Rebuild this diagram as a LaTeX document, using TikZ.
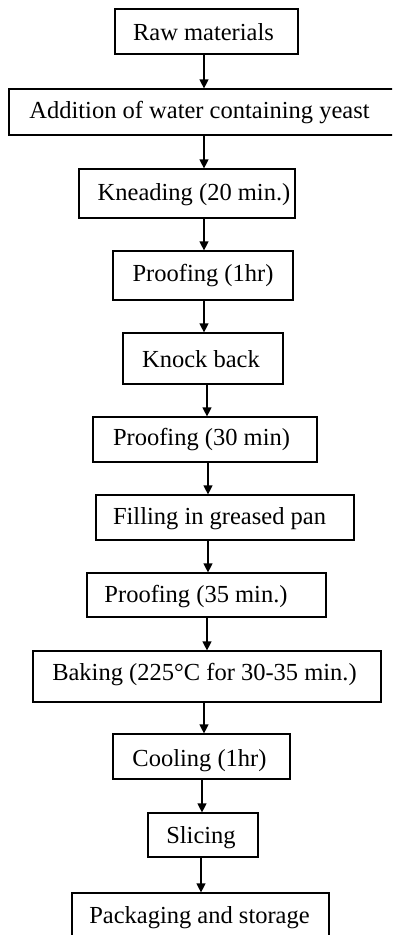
\documentclass[tikz,border=0pt]{standalone}
\usepackage{fontspec}
\setmainfont{Liberation Serif}
\usetikzlibrary{arrows.meta}

\begin{document}
\begin{tikzpicture}[x=1pt,y=-1pt,->,>={Triangle[width=9pt,length=9pt]},line width=1.2pt]
   \useasboundingbox (0,0) rectangle (392,935);
   \clip (0,0) rectangle (392,935);
   \fontsize{24.5}{29}\selectfont
   \tikzstyle{box}=[rectangle, draw=black, inner sep=0pt]
   \tikzstyle{lbl}=[anchor=base, inner sep=0pt]
   % boxes: number/centre x/centre y/width/height
   \foreach \n/\x/\y/\w/\h in {1/206.5/31.5/183/45, 2/204.5/112/391/46, 3/187/193.5/216/49,
       4/203/275.5/180/49, 5/203/358.5/160/51, 6/205/439.5/224/45, 7/225/517.5/258/45,
       8/206.5/595/239/44, 9/207/676.5/348/51, 10/201.5/756.5/177/45, 11/203/835/110/44,
       12/200.5/926.5/257/67} {
       \node[box, minimum width=\w pt, minimum height=\h pt] (b\n) at (\x,\y) {};
   }
   % texts on their baselines
   \foreach \n/\x/\y/\txt in {1/203.5/40/{Raw materials}, 2/199.5/118/{Addition of water containing yeast},
       3/194/200/{Kneading (20 min.)}, 4/203/281/{Proofing (1hr)}, 5/201/367/{Knock back},
       6/201.5/445/{Proofing (30 min)}, 7/219.5/524/{Filling in greased pan},
       8/196/602/{Proofing (35 min.)}, 9/204.5/680/{Baking (225°C for 30-35 min.)},
       10/199.5/766/{Cooling (1hr)}, 11/201/843/{Slicing}, 12/199.5/923/{Packaging and storage}} {
       \node[lbl] (t\n) at (\x,\y) {\txt};
   }
   % arrows
   \foreach \i/\j/\dx in {1/2/-2.5, 2/3/-0.5, 3/4/17, 4/5/1, 5/6/4, 6/7/3, 7/8/-17,
       8/9/0.5, 9/10/-3, 10/11/0.5, 11/12/-2} {
       \draw ([xshift=\dx pt]b\i.south) -- ([xshift=\dx pt]b\i.south |- b\j.north);
   }
\end{tikzpicture}
\end{document}
